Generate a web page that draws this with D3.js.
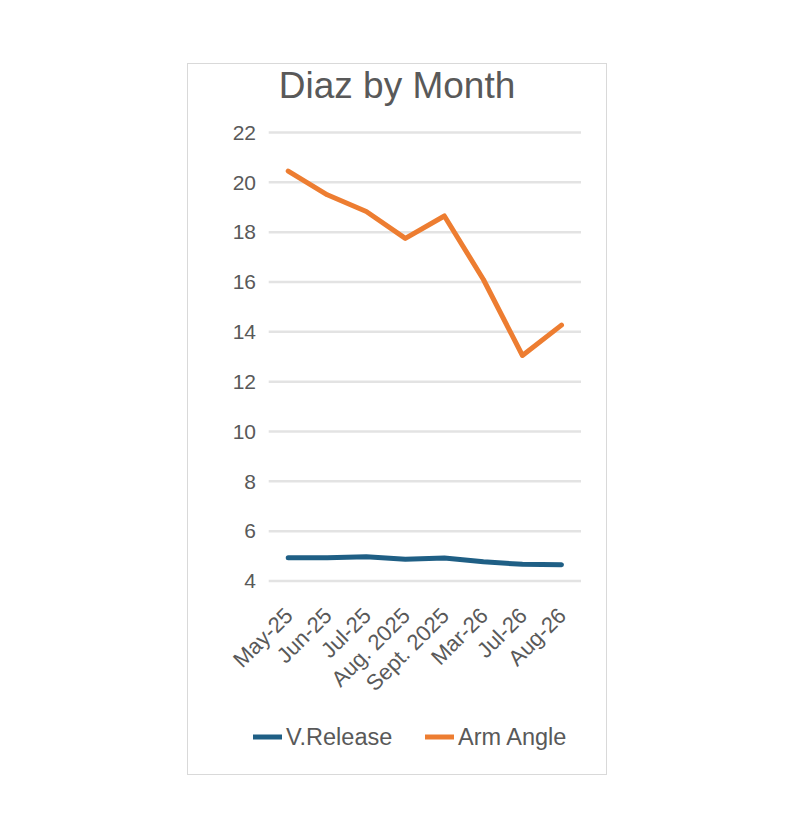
<!DOCTYPE html>
<html>
<head>
<meta charset="utf-8">
<script src="https://cdn.jsdelivr.net/npm/d3@7"></script>
<style>
  html, body { margin: 0; padding: 0; background: #fff; }
  svg { display: block; font-family: "Liberation Sans", Arial, sans-serif; }
</style>
</head>
<body>
<div id="chart"></div>
<script>
// data
const months = ['May-25', 'Jun-25', 'Jul-25', 'Aug. 2025', 'Sept. 2025', 'Mar-26', 'Jul-26', 'Aug-26'];
const vRelease = [4.93, 4.93, 4.97, 4.87, 4.92, 4.77, 4.67, 4.65];
const armAngle = [20.45, 19.5, 18.83, 17.75, 18.65, 16.1, 13.05, 14.27];
const yTicks = [4, 6, 8, 10, 12, 14, 16, 18, 20, 22];

const width = 802, height = 814;
const textColor = '#595959';

const series = [
  { name: 'V.Release', values: vRelease, color: '#1f5f85' },
  { name: 'Arm Angle', values: armAngle, color: '#ed7d31' }
];

const svg = d3.select('#chart')
  .append('svg')
  .attr('width', width)
  .attr('height', height);

svg.append('rect')
  .attr('width', width).attr('height', height)
  .attr('fill', '#fff');

// chart frame
svg.append('rect')
  .attr('x', 187.5).attr('y', 63.5)
  .attr('width', 419).attr('height', 711)
  .attr('fill', '#fff')
  .attr('stroke', '#d9d9d9')
  .attr('stroke-width', 1);

svg.append('text')
  .attr('x', 397).attr('y', 98)
  .attr('text-anchor', 'middle')
  .style('font-size', '37px')
  .style('fill', textColor)
  .text('Diaz by Month');

const x = d3.scalePoint()
  .domain(months)
  .range([268.7, 581])
  .padding(0.5);

const y = d3.scaleLinear()
  .domain([4, 22])
  .range([581, 132.5]);

// gridlines
svg.append('g')
  .selectAll('line')
  .data(yTicks)
  .enter()
  .append('line')
  .attr('x1', 268.7).attr('x2', 581)
  .attr('y1', d => y(d)).attr('y2', d => y(d))
  .attr('stroke', '#e3e3e3')
  .attr('stroke-width', 2.5);

// y axis labels
const yAxis = svg.append('g')
  .attr('transform', 'translate(256,0)')
  .call(d3.axisLeft(y).tickValues(yTicks).tickSize(0).tickPadding(0));
yAxis.select('.domain').remove();
yAxis.selectAll('text')
  .style('font-size', '21px')
  .style('fill', textColor)
  .style('font-family', '"Liberation Sans", Arial, sans-serif');

// x axis labels, rotated
svg.append('g')
  .selectAll('text')
  .data(months)
  .enter()
  .append('text')
  .attr('transform', d => `translate(${x(d) + 6}, 617) rotate(-45)`)
  .attr('text-anchor', 'end')
  .style('font-size', '22px')
  .style('fill', textColor)
  .text(d => d);

const line = d3.line()
  .x((d, i) => x(months[i]))
  .y(d => y(d));

svg.append('g')
  .selectAll('path')
  .data(series)
  .enter()
  .append('path')
  .attr('d', d => line(d.values))
  .attr('fill', 'none')
  .attr('stroke', d => d.color)
  .attr('stroke-width', 5)
  .attr('stroke-linejoin', 'round')
  .attr('stroke-linecap', 'round');

// legend
const legendX = [253, 425];
const legend = svg.append('g')
  .selectAll('g')
  .data(series)
  .enter()
  .append('g')
  .attr('transform', (d, i) => `translate(${legendX[i]}, 737)`);

legend.append('line')
  .attr('x1', 0).attr('x2', 29)
  .attr('stroke', d => d.color)
  .attr('stroke-width', 5);

legend.append('text')
  .attr('x', 33).attr('dy', '0.35em')
  .style('font-size', '23.5px')
  .style('fill', textColor)
  .text(d => d.name);
</script>
</body>
</html>
